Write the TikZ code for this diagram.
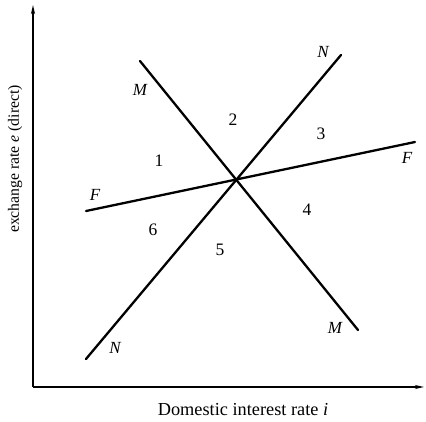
\documentclass[tikz,border=0pt]{standalone}
\usepackage{fontspec}
\setmainfont{Liberation Serif}
\usetikzlibrary{arrows.meta}
\begin{document}
\begin{tikzpicture}[x=1pt,y=-1pt,
  curve/.style={line width=2.3pt},
  axis/.style={line width=1.7pt,-{Stealth[length=9pt,width=4pt]}},
  lbl/.style={font=\fontsize{17}{17}\selectfont\itshape,inner sep=0pt},
  num/.style={font=\fontsize{17.5}{17.5}\selectfont,inner sep=0pt},
  xlbl/.style={font=\fontsize{18.3}{18.3}\selectfont,inner sep=0pt},
  ylbl/.style={font=\fontsize{15.7}{15.7}\selectfont,inner sep=0pt}]
\useasboundingbox (0,0) rectangle (426,421);
% axes
\coordinate (O) at (33,387);
\coordinate (Ytop) at (33,5);
\coordinate (Xend) at (424,387);
\draw[axis] (O) -- (Ytop);
\draw[axis] (O) -- (Xend);
% curves
\coordinate (M1) at (140,61);
\coordinate (M2) at (358,330);
\coordinate (N1) at (86,359);
\coordinate (N2) at (341,55);
\coordinate (F1) at (86,211);
\coordinate (F2) at (415,142);
\draw[curve,line cap=round] (M1) -- (M2);
\draw[curve,line cap=round] (N1) -- (N2);
\draw[curve,line cap=round] (F1) -- (F2);
% curve labels
\node[lbl] (mt) at (140,90) {M};
\node[lbl] (mb) at (335,328) {M};
\node[lbl] (nt) at (323,52) {N};
\node[lbl] (nb) at (115,348) {N};
\node[lbl] (fl) at (95,195) {F};
\node[lbl] (fr) at (407,158) {F};
% regions
\node[num] (r1) at (159,161) {1};
\node[num] (r2) at (233,120) {2};
\node[num] (r3) at (321,134) {3};
\node[num] (r4) at (307,210) {4};
\node[num] (r5) at (220,250) {5};
\node[num] (r6) at (153,230) {6};
% axis labels
\node[xlbl] (xl) at (243,410) {Domestic interest rate \textit{i}};
\node[ylbl,rotate=90] (yl) at (15,159) {exchange rate \textit{e} (direct)};
\end{tikzpicture}
\end{document}
